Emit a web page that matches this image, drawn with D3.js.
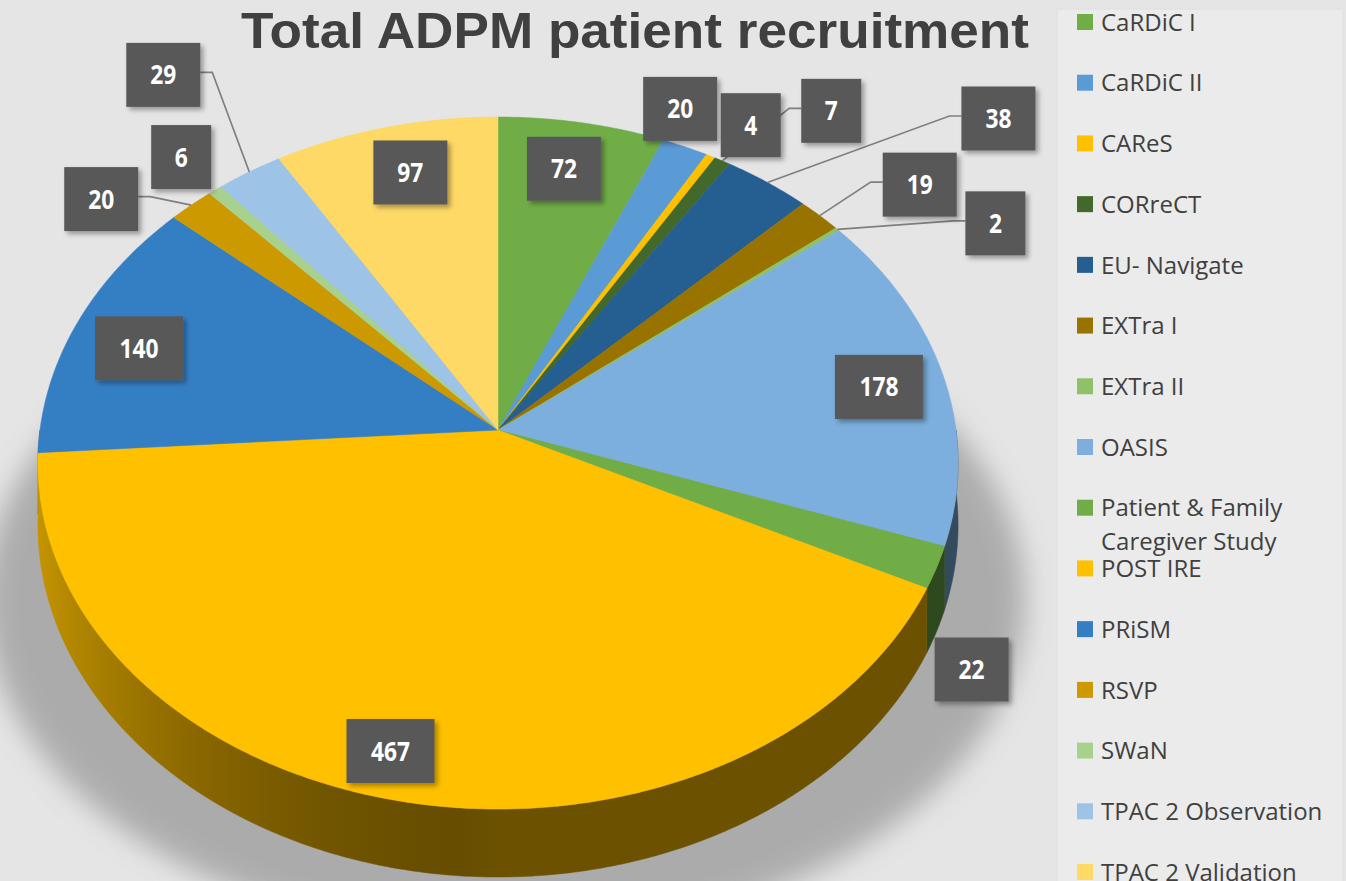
<!DOCTYPE html>
<html><head><meta charset="utf-8">
<script src="https://cdn.jsdelivr.net/npm/d3@7"></script>
<style>html,body{margin:0;padding:0;background:#e5e5e5;overflow:hidden}svg{display:block}</style>
</head><body>
<svg id="chart" width="1346" height="881"></svg>
<script>
// ---- data ----
const title = "Total ADPM patient recruitment";
const categories = ["CaRDiC I","CaRDiC II","CAReS","CORreCT","EU- Navigate","EXTra I","EXTra II","OASIS","Patient & Family Caregiver Study","POST IRE","PRiSM","RSVP","SWaN","TPAC 2 Observation","TPAC 2 Validation"];
const values = [72,20,4,7,38,19,2,178,22,467,140,20,6,29,97];
const legendLines = [["CaRDiC I"],["CaRDiC II"],["CAReS"],["CORreCT"],["EU- Navigate"],["EXTra I"],["EXTra II"],["OASIS"],["Patient & Family","Caregiver Study"],["POST IRE"],["PRiSM"],["RSVP"],["SWaN"],["TPAC 2 Observation"],["TPAC 2 Validation"]];
const colors = ["#70ad47","#5b9bd5","#ffc000","#43682b","#255e91","#997300","#8fc16a","#7cafdd","#70ad47","#ffc000","#347fc4","#cc9900","#a9d18e","#9dc3e6","#ffd966"];

// ---- layout (label box offsets from slice edge anchor, leader-line flags) ----
const labelOffsets = [[-18,46],[-5,-38],[40,-31],[109,-50],[231,-64],[100,-31],[158,-6],[-64,12],[35,102],[-9,-50],[62,25],[-90,-6],[-34,-33],[-86,-97],[25,45]];
const hasLeader = [false,false,false,true,true,true,true,false,false,false,false,true,false,true,false];

const svg = d3.select("#chart");
const W = 1346, H = 881;

// perspective disk projection
const CX = 498, CY = 430, AX = 458, AY = 342.9, K = 0.0954, DEPTH = 61.5;
const xScale = d3.scaleLinear().domain([-1, 1]).range([CX - AX, CX + AX]);
const yScale = d3.scaleLinear().domain([-1, 1]).range([CY + AY, CY - AY]);
function proj(a, s = 1) {
  const u = s * Math.sin(a), v = s * Math.cos(a), w = 1 + K * v;
  return [xScale(u / w), yScale(v / w)];
}
function projBottom(a) {
  const p = proj(a); const w = 1 + K * Math.cos(a);
  return [p[0], p[1] + DEPTH / w];
}

const defs = svg.append("defs");
defs.append("filter").attr("id", "pieShadow").attr("x", "-20%").attr("y", "-20%").attr("width", "140%").attr("height", "140%")
  .append("feGaussianBlur").attr("stdDeviation", 14);
const ds = defs.append("filter").attr("id", "boxShadow").attr("x", "-30%").attr("y", "-30%").attr("width", "160%").attr("height", "160%");
ds.append("feDropShadow").attr("dx", 3).attr("dy", 3).attr("stdDeviation", 2.5).attr("flood-color", "#000").attr("flood-opacity", 0.35);

// background
svg.append("rect").attr("width", W).attr("height", H).attr("fill", "#e5e5e5");

// pie shadow
svg.append("ellipse").attr("cx", CX + 7).attr("cy", CY + 170).attr("rx", AX + 62).attr("ry", AY - 5)
  .attr("fill", "#9c9c9c").attr("opacity", 0.78).attr("filter", "url(#pieShadow)");

const arcs = d3.pie().sort(null).value(d => d)(values);
const step = Math.PI / 360;

// side walls (front half) with horizontal lighting gradient
function shadeFactor(a) {
  const s = Math.sin(a);
  return s < 0 ? 0.40 + 0.38 * s * s : 0.42;
}
const aR = Math.acos(-K), aL = 2 * Math.PI - Math.acos(-K);
const xL = proj(aL)[0], xR = proj(aR)[0];
const sideG = svg.append("g");
const sides = [];
arcs.forEach((d, i) => {
  const a0 = Math.max(d.startAngle, Math.PI / 2), a1 = Math.min(d.endAngle, 3 * Math.PI / 2);
  if (a1 <= a0) return;
  const gid = "side" + i;
  const g = defs.append("linearGradient").attr("id", gid).attr("gradientUnits", "userSpaceOnUse")
    .attr("x1", xL).attr("y1", 0).attr("x2", xR).attr("y2", 0);
  const c = d3.rgb(colors[i]);
  for (let t = 0; t <= 40; t++) {
    const a = aL - (aL - aR) * t / 40;
    const f = shadeFactor(a);
    const off = (proj(a)[0] - xL) / (xR - xL);
    g.append("stop").attr("offset", Math.max(0, Math.min(1, off))).attr("stop-color", d3.rgb(c.r * f, c.g * f, c.b * f).formatHex());
  }
  const n = Math.max(2, Math.ceil((a1 - a0) / step));
  const top = [], bot = [];
  for (let j = 0; j <= n; j++) {
    const a = a0 + (a1 - a0) * j / n;
    top.push(proj(a)); bot.push(projBottom(a));
  }
  sides.push({ i, mid: (a0 + a1) / 2, pts: top.concat(bot.reverse()) });
});
sides.sort((a, b) => Math.cos(b.mid) - Math.cos(a.mid));
sides.forEach(s => {
  sideG.append("path").attr("d", d3.line()(s.pts) + "Z").attr("fill", `url(#side${s.i})`)
    .attr("stroke", `url(#side${s.i})`).attr("stroke-width", 0.5);
});

// top faces
const topG = svg.append("g");
arcs.forEach((d, i) => {
  const n = Math.max(2, Math.ceil((d.endAngle - d.startAngle) / step));
  const pts = [proj(0, 0)];
  for (let j = 0; j <= n; j++) pts.push(proj(d.startAngle + (d.endAngle - d.startAngle) * j / n));
  topG.append("path").attr("d", d3.line()(pts) + "Z").attr("fill", colors[i]).attr("stroke", colors[i]).attr("stroke-width", 0.5);
});

// labels
const labelData = arcs.map((d, i) => {
  const mid = (d.startAngle + d.endAngle) / 2;
  const anchor = proj(mid);
  const cx = anchor[0] + labelOffsets[i][0], cy = anchor[1] + labelOffsets[i][1];
  const txt = String(values[i]);
  const w = 46 + 14 * txt.length;
  return { i, anchor, cx, cy, txt, w };
});
const leaderG = svg.append("g");
labelData.forEach(l => {
  if (!hasLeader[l.i]) return;
  const right = l.cx > l.anchor[0];
  const edge = right ? l.cx - l.w / 2 : l.cx + l.w / 2;
  const elbow = right ? edge - 12 : edge + 12;
  const y = l.cy - 2.5;
  leaderG.append("path").attr("d", d3.line()([l.anchor, [elbow, y], [edge, y]]))
    .attr("fill", "none").attr("stroke", "#7f7f7f").attr("stroke-width", 1.6);
});
const labelG = svg.append("g");
labelData.forEach(l => {
  labelG.append("rect").attr("x", l.cx - l.w / 2).attr("y", l.cy - 32).attr("width", l.w).attr("height", 64)
    .attr("fill", "#595959").attr("filter", "url(#boxShadow)");
  labelG.append("text").attr("x", l.cx).attr("y", l.cy + 9.5).attr("text-anchor", "middle")
    .attr("font-family", "'Open Sans', sans-serif").attr("font-weight", "bold").attr("font-size", 26)
    .attr("fill", "#ffffff").attr("textLength", 13 * l.txt.length).attr("lengthAdjust", "spacingAndGlyphs")
    .text(l.txt);
});

// title
svg.append("text").attr("x", 241).attr("y", 48)
  .attr("font-family", "'Liberation Sans', Arial, sans-serif").attr("font-weight", "bold").attr("font-size", 50)
  .attr("fill", "#404040").attr("textLength", 788).attr("lengthAdjust", "spacingAndGlyphs").text(title);

// legend
svg.append("rect").attr("x", 1057).attr("y", 9).attr("width", 286).attr("height", H).attr("fill", "#ebebeb")
  .attr("stroke", "#e0e0e0").attr("stroke-width", 1);
const legY = d3.scaleLinear().domain([0, categories.length - 1]).range([22, 872]);
const legG = svg.append("g");
categories.forEach((c, i) => {
  const y = legY(i);
  legG.append("rect").attr("x", 1077).attr("y", y - 8).attr("width", 16).attr("height", 16).attr("fill", colors[i]);
  const t = legG.append("text").attr("font-family", "'Open Sans', sans-serif").attr("font-size", 24).attr("fill", "#404040");
  legendLines[i].forEach((ln, k) => {
    t.append("tspan").attr("x", 1101).attr("y", y + 8.7 + k * 34).text(ln);
  });
});
</script>
</body></html>
